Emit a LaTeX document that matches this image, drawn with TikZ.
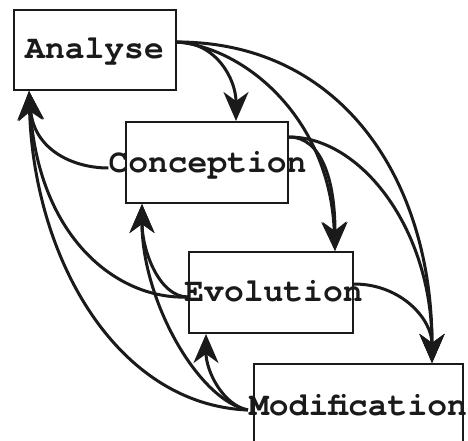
\documentclass[tikz,border=0pt]{standalone}
\usepackage{fontspec}
\newfontfamily\boxfont{TeX Gyre Cursor}
\usetikzlibrary{arrows.meta}
\definecolor{ink}{RGB}{26,26,26}
\begin{document}
\begin{tikzpicture}[x=1pt,y=1pt,
  phase/.style={draw=ink,line width=2pt,minimum width=#1,inner sep=0pt},
  phase/.default=162pt,
  lbl/.style={font=\boxfont\bfseries\fontsize{33}{34}\selectfont,text=ink,inner sep=0pt,anchor=base},
  flow/.style={draw=ink,line width=3pt,-{Stealth[length=29pt,width=25pt,inset=9pt]}}]
\useasboundingbox (0,0) rectangle (468,-441);
\clip (0,0) rectangle (468,-441);
\fill[white] (0,0) rectangle (468,-441);
% the four phase boxes
\node[phase=162pt,minimum height=80pt] (A) at (95,-50) {};
\node[phase=162pt,minimum height=81pt] (C) at (207,-162.5) {};
\node[phase=164pt,minimum height=81pt] (E) at (271,-292.5) {};
\node[phase=209pt,minimum height=82pt] (M) at (358.5,-405) {};
% forward flows
\draw[flow] ([yshift=8pt]A.east) .. controls +(39,0) and +(0,42) .. ([xshift=29pt]C.north);
\draw[flow] ([yshift=8pt]A.east) .. controls +(69,-6) and +(-5,132) .. ([xshift=64pt]E.north);
\draw[flow] ([yshift=8pt]A.east) .. controls +(164,0) and +(0,184) .. ([xshift=73.5pt]M.north);
\draw[flow] ([yshift=-16pt]C.north east) .. controls +(32,0) and +(0,72) .. ([xshift=64pt]E.north);
\draw[flow] ([yshift=-16pt]C.north east) .. controls +(72,0) and +(0,134) .. ([xshift=73.5pt]M.north);
\draw[flow] ([yshift=8.5pt]E.east) .. controls +(47,0) and +(0,44) .. ([xshift=73.5pt]M.north);
% labels
\node[lbl] (At) at (94.5,-59) {Analyse};
\node[lbl] (Ct) at (207.5,-172) {Conception};
\node[lbl] (Et) at (273.5,-301) {Evolution};
\node[lbl] (Mt) at (358,-415) {Modification};
% feedback flows
\draw[flow] ([yshift=4pt]Ct.base west) .. controls +(-35,0) and +(5,-59) .. ([xshift=16pt]A.south west);
\draw[flow] ([yshift=-4.5pt]E.west) .. controls +(-69,-3) and +(10,-149) .. ([xshift=16pt]A.south west);
\draw[flow] ([shift={(-1pt,5pt)}]Mt.base west) .. controls +(-130,5) and +(5,-169) .. ([xshift=16pt]A.south west);
\draw[flow] ([yshift=-4.5pt]E.west) .. controls +(-29,0) and +(0,-46) .. ([xshift=17pt]C.south west);
\draw[flow] ([shift={(-1pt,5pt)}]Mt.base west) .. controls +(-50,10) and +(0,-96) .. ([xshift=17pt]C.south west);
\draw[flow] ([shift={(-1pt,5pt)}]Mt.base west) .. controls +(-25,5) and +(0,-37) .. ([xshift=18pt]E.south west);
\end{tikzpicture}
\end{document}
